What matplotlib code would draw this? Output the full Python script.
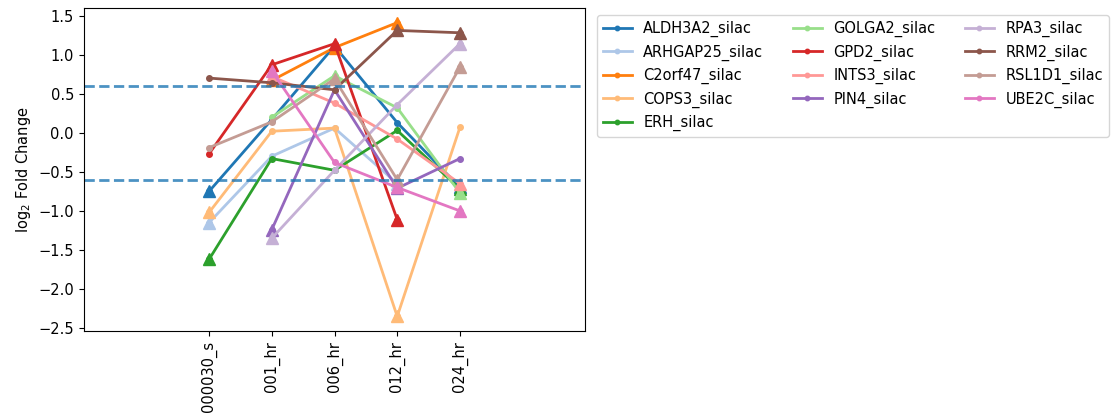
import numpy as np
import matplotlib
matplotlib.use("Agg")
import matplotlib.pyplot as plt

nan = np.nan
timepoints = ["000030_s", "001_hr", "006_hr", "012_hr", "024_hr"]

# log2 fold change per gene and time point (nan = not measured)
ALDH3A2 = [-0.75, 0.17, 1.11, 0.13, -0.70]
ARHGAP25 = [-1.15, -0.30, 0.06, -0.65, nan]
C2orf47 = [nan, 0.67, 1.09, 1.41, nan]
COPS3 = [-1.02, 0.02, 0.06, -2.35, 0.07]
ERH = [-1.62, -0.33, -0.48, 0.03, -0.72]
GOLGA2 = [nan, 0.20, 0.73, 0.32, -0.77]
GPD2 = [-0.27, 0.87, 1.14, -1.11, nan]
INTS3 = [nan, 0.72, 0.38, -0.08, -0.65]
PIN4 = [nan, -1.24, 0.55, -0.71, -0.33]
RPA3 = [nan, -1.35, -0.48, 0.36, 1.14]
RRM2 = [0.70, 0.64, 0.55, 1.31, 1.28]
RSL1D1 = [-0.19, 0.14, 0.69, -0.60, 0.84]
UBE2C = [nan, 0.79, -0.38, -0.70, -1.00]

# significant points (drawn as triangles)
ALDH3A2_sig = [1, 0, 1, 0, 1]
ARHGAP25_sig = [1, 0, 0, 1, 0]
C2orf47_sig = [0, 1, 1, 1, 0]
COPS3_sig = [1, 0, 0, 1, 0]
ERH_sig = [1, 0, 0, 0, 1]
GOLGA2_sig = [0, 0, 1, 0, 1]
GPD2_sig = [0, 1, 1, 1, 0]
INTS3_sig = [0, 1, 0, 0, 1]
PIN4_sig = [0, 1, 0, 1, 0]
RPA3_sig = [0, 1, 0, 0, 1]
RRM2_sig = [0, 0, 0, 1, 1]
RSL1D1_sig = [0, 0, 1, 1, 1]
UBE2C_sig = [0, 1, 0, 1, 1]

genes = ["ALDH3A2", "ARHGAP25", "C2orf47", "COPS3", "ERH", "GOLGA2", "GPD2",
         "INTS3", "PIN4", "RPA3", "RRM2", "RSL1D1", "UBE2C"]
values = [ALDH3A2, ARHGAP25, C2orf47, COPS3, ERH, GOLGA2, GPD2,
          INTS3, PIN4, RPA3, RRM2, RSL1D1, UBE2C]
sigs = [ALDH3A2_sig, ARHGAP25_sig, C2orf47_sig, COPS3_sig, ERH_sig, GOLGA2_sig,
        GPD2_sig, INTS3_sig, PIN4_sig, RPA3_sig, RRM2_sig, RSL1D1_sig, UBE2C_sig]
threshold = 0.6

fig = plt.figure(figsize=(11.15, 4.17), dpi=100)
ax = fig.add_axes([0.075, 0.206, 0.45, 0.775])
cmap = plt.get_cmap("tab20")
x = np.arange(len(timepoints))

for i, (name, vals, sg) in enumerate(zip(genes, values, sigs)):
    v = np.array(vals, dtype=float)
    s = np.array(sg, dtype=bool)
    c = cmap(i)
    ax.plot(x, v, color=c, marker=".", markersize=8, linewidth=2,
            label=name + "_silac")
    ax.plot(x[s], v[s], linestyle="none", marker="^", markersize=9, color=c)

ax.axhline(threshold, color="#1f77b4", linestyle="--", linewidth=2, alpha=0.8)
ax.axhline(-threshold, color="#1f77b4", linestyle="--", linewidth=2, alpha=0.8)

ax.set_xlim(-2, 6)
ax.set_xticks(x)
ax.set_xticklabels(timepoints, rotation=90, fontsize=10.5)
ax.tick_params(axis="y", labelsize=10.5)
ax.set_ylabel("log$_2$ Fold Change", fontsize=10.5)
ax.legend(loc="upper left", bbox_to_anchor=(1.008, 1.0), ncol=3,
          fontsize=10.5, labelspacing=0.5, markerscale=0.8)

fig.savefig("out.png", dpi=100)
